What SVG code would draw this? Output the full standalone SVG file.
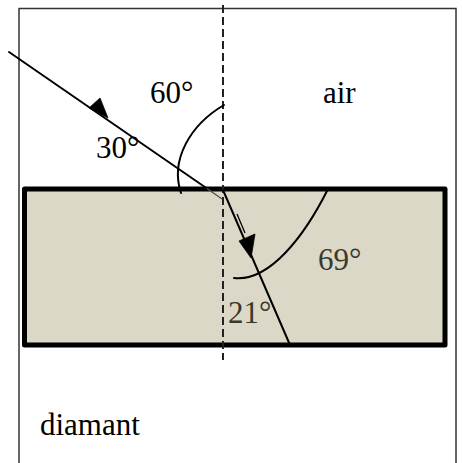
<svg xmlns="http://www.w3.org/2000/svg" width="462" height="463" viewBox="0 0 462 463">
  <style>
    .lbl { font-family: "Liberation Serif", "Times New Roman", serif; font-size: 31px; fill: #000; }
    .in { fill: #3a382c; }
    .ray { fill: none; stroke: #000; stroke-width: 2; stroke-linecap: round; }
    .arc { fill: none; stroke: #000; stroke-width: 2; stroke-linecap: round; }
    .head { fill: #000; stroke: #000; stroke-width: 0.8; stroke-linejoin: round; }
  </style>
  <rect width="462" height="463" fill="#fff"/>
  <g id="frame">
    <rect x="19" y="8.5" width="437" height="470" fill="none" stroke="#333" stroke-width="1.5"/>
  </g>
  <g id="diamond-block">
    <rect x="24.5" y="189" width="420.5" height="156" fill="#dbd8c7" stroke="#000" stroke-width="5" stroke-linejoin="round"/>
  </g>
  <g id="normal">
    <line x1="223" y1="5" x2="223" y2="360" stroke="#222" stroke-width="2" stroke-dasharray="8 4"/>
  </g>
  <g id="connectors">
    <path class="ray" d="M9,52 L207,188.5"/>
    <path d="M207,188.5 L222,199" fill="none" stroke="#555" stroke-width="1.5"/>
    <polygon class="head" points="89,108 100,98 108,118"/>
    <path class="ray" d="M223,190 L290,345"/>
    <path d="M237,214 L245,233" fill="none" stroke="#000" stroke-width="1.3"/>
    <polygon class="head" points="239,241 255,234 251,258"/>
    <path class="arc" d="M224,105 C190,125 170,160 181,193"/>
    <path class="arc" d="M328,189 C305,235 270,282 234,278"/>
  </g>
  <g id="label-60"><text class="lbl" x="150" y="103">60°</text></g>
  <g id="label-30"><text class="lbl" x="96" y="158">30°</text></g>
  <g id="label-air"><text class="lbl" x="323" y="103">air</text></g>
  <g id="label-69"><text class="lbl in" x="318" y="270">69°</text></g>
  <g id="label-21"><text class="lbl in" x="228" y="323">21°</text></g>
  <g id="label-diamant"><text class="lbl" x="40" y="435">diamant</text></g>
</svg>
